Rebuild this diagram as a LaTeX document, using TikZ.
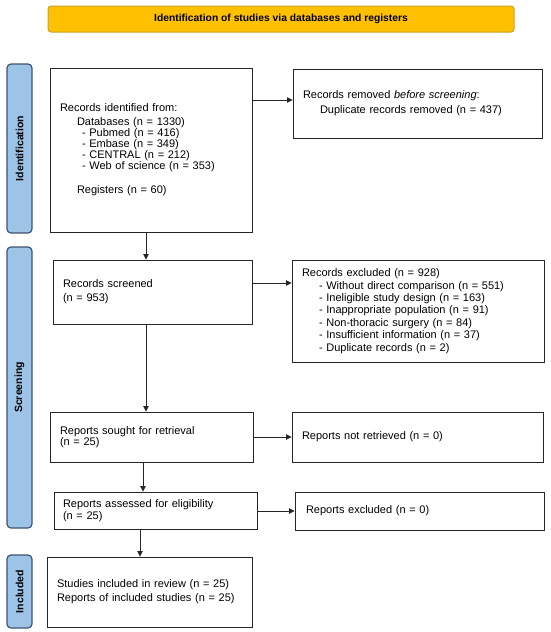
\documentclass[tikz,border=0pt]{standalone}
\usepackage{fontspec}
\setmainfont{Liberation Sans}
\usetikzlibrary{arrows.meta}
\definecolor{gold}{HTML}{FFC000}
\definecolor{goldline}{HTML}{C9A227}
\definecolor{sideblue}{HTML}{9DC3E6}
\definecolor{sideline}{HTML}{3E5272}
\begin{document}
\begin{tikzpicture}[x=1pt,y=-1pt,
  box/.style={draw=black!85, line width=0.9pt, align=left, inner ysep=0pt},
  phase/.style={draw=sideline, fill=sideblue, rounded corners=4pt, line width=1.2pt, rotate=90, inner sep=0pt,
     font=\bfseries\fontsize{10.5}{12}\selectfont},
  titlebox/.style={draw=goldline, fill=gold, rounded corners=3pt, line width=1pt, inner sep=0pt,
     font=\bfseries\fontsize{10.3}{12}\selectfont},
  arr/.style={-{Triangle[length=5.5pt,width=5.5pt]}, line width=0.8pt, draw=black!85}
]
\useasboundingbox (0,0) rectangle (550,632);

% title
\node[titlebox, minimum width=466pt, minimum height=26pt] (title) at (281,19) {Identification of studies via databases and registers};

% phase bars
\node[phase, minimum width=169pt, minimum height=25pt] (pid) at (19.5,148.5) {Identification};
\node[phase, minimum width=281pt, minimum height=25pt] (psc) at (19.5,387.5) {Screening};
\node[phase, minimum width=73pt, minimum height=25pt] (pin) at (19.5,591.5) {Included};

% boxes
\node[box, font=\fontsize{11}{11}\selectfont, inner xsep=10pt, text width=182pt, minimum height=164pt] (ident) at (151,150) {%
Records identified from:\\[3pt]
\hspace*{17pt}Databases (n = 1330)\\
\hspace*{22pt}- Pubmed (n = 416)\\
\hspace*{22pt}- Embase (n = 349)\\
\hspace*{22pt}- CENTRAL (n = 212)\\
\hspace*{22pt}- Web of science (n = 353)\\[13pt]
\hspace*{17pt}Registers (n = 60)};

\node[box, font=\fontsize{11}{15}\selectfont, inner xsep=10pt, text width=229pt, minimum height=69pt] (removed) at (417.5,103.5) {%
Records removed \textit{before screening}:\\
\hspace*{17pt}Duplicate records removed (n = 437)};

\node[box, font=\fontsize{11}{14}\selectfont, inner xsep=10pt, text width=179pt, minimum height=64pt] (screened) at (152.5,292) {%
Records screened\\
(n = 953)};

\node[box, font=\fontsize{11}{12.4}\selectfont, inner xsep=10pt, text width=232pt, minimum height=102pt] (excluded) at (418,311) {%
Records excluded (n = 928)\\
\hspace*{17pt}- Without direct comparison (n = 551)\\
\hspace*{17pt}- Ineligible study design (n = 163)\\
\hspace*{17pt}- Inappropriate population (n = 91)\\
\hspace*{17pt}- Non-thoracic surgery (n = 84)\\
\hspace*{17pt}- Insufficient information (n = 37)\\
\hspace*{17pt}- Duplicate records (n = 2)};

\node[box, font=\fontsize{11}{11.7}\selectfont, inner xsep=10pt, text width=183pt, minimum height=50pt] (sought) at (151.5,437) {%
Reports sought for retrieval\\
(n = 25)};

\node[box, font=\fontsize{11}{12}\selectfont, inner xsep=10pt, text width=231pt, minimum height=50pt] (notret) at (417.5,437) {%
Reports not retrieved (n = 0)};

\node[box, font=\fontsize{11}{12.3}\selectfont, inner xsep=9pt, text width=185pt, minimum height=37pt] (assessed) at (155.5,510.5) {%
Reports assessed for eligibility\\
(n = 25)};

\node[box, font=\fontsize{11}{12}\selectfont, inner xsep=11pt, text width=227pt, minimum height=38pt] (repexcl) at (419.5,511) {%
Reports excluded (n = 0)};

\node[box, font=\fontsize{11}{14}\selectfont, inner xsep=10pt, text width=185pt, minimum height=70pt] (included) at (149.5,592) {%
Studies included in review (n = 25)\\
Reports of included studies (n = 25)};

% connector guide coordinates
\coordinate (xa) at (146,0);
\coordinate (xb) at (143,0);
\coordinate (xc) at (140,0);
\coordinate (ya) at (0,100);
\coordinate (yb) at (0,283);
\coordinate (yc) at (0,437);
\coordinate (yd) at (0,511);

% vertical arrows
\draw[arr] (ident.south -| xa) -- (screened.north -| xa);
\draw[arr] (screened.south -| xa) -- (sought.north -| xa);
\draw[arr] (sought.south -| xb) -- (assessed.north -| xb);
\draw[arr] (assessed.south -| xc) -- (included.north -| xc);

% horizontal arrows
\draw[arr] (ident.east |- ya) -- (removed.west |- ya);
\draw[arr] (screened.east |- yb) -- (excluded.west |- yb);
\draw[arr] (sought.east |- yc) -- (notret.west |- yc);
\draw[arr] (assessed.east |- yd) -- (repexcl.west |- yd);
\end{tikzpicture}
\end{document}
